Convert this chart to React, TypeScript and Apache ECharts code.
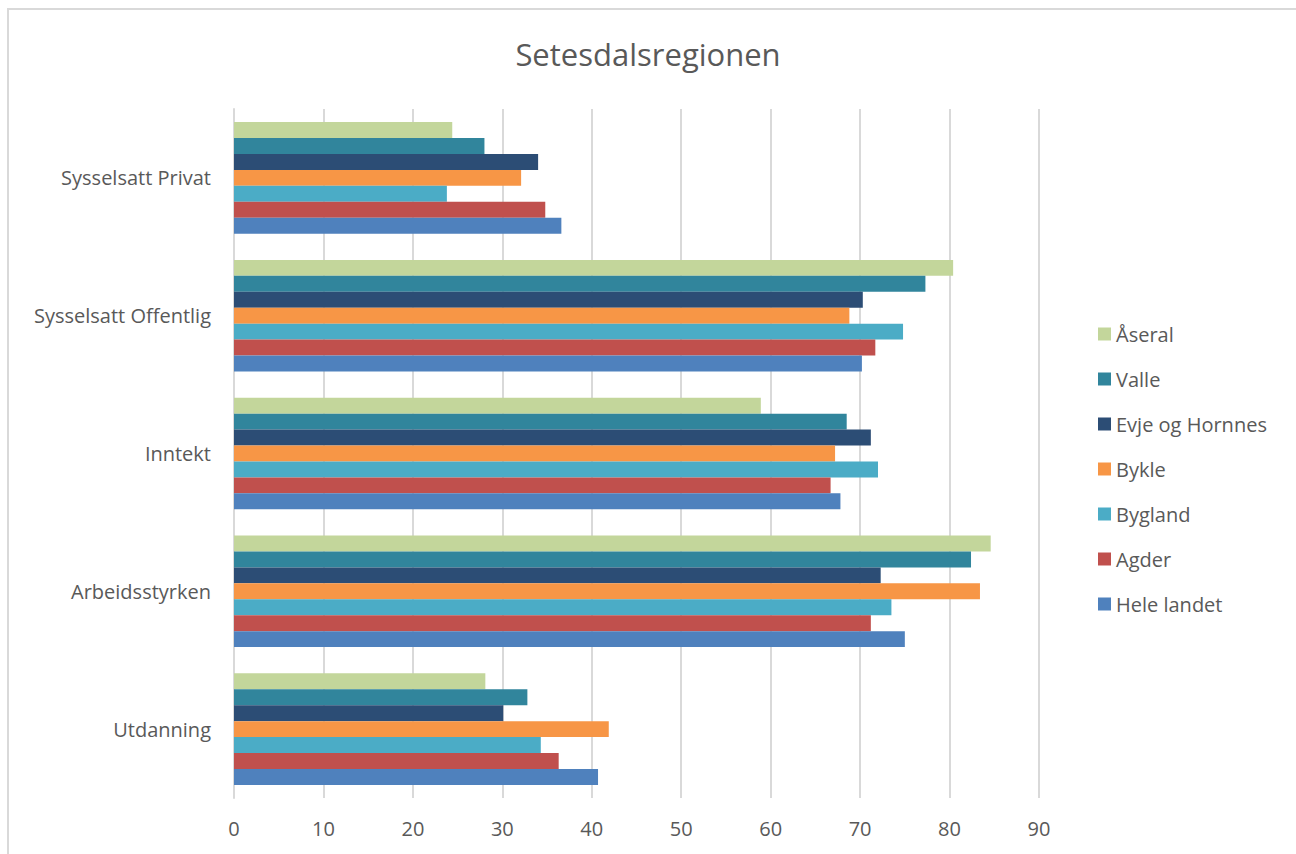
import React, { useEffect, useRef } from "react";
import * as echarts from "echarts";

const categories = ["Utdanning", "Arbeidsstyrken", "Inntekt", "Sysselsatt Offentlig", "Sysselsatt Privat"];
const seriesNames = ["Åseral", "Valle", "Evje og Hornnes", "Bykle", "Bygland", "Agder", "Hele landet"];
const aseral = [28.1, 84.6, 58.9, 80.4, 24.4];
const valle = [32.8, 82.4, 68.5, 77.3, 28.0];
const evje = [30.1, 72.3, 71.2, 70.3, 34.0];
const bykle = [41.9, 83.4, 67.2, 68.8, 32.1];
const bygland = [34.3, 73.5, 72.0, 74.8, 23.8];
const agder = [36.3, 71.2, 66.7, 71.7, 34.8];
const heleLandet = [40.7, 75.0, 67.8, 70.2, 36.6];
const xTicks = [0, 10, 20, 30, 40, 50, 60, 70, 80, 90];

const seriesValues = [aseral, valle, evje, bykle, bygland, agder, heleLandet];
const colors = ["#c3d69b", "#31859c", "#2c4d75", "#f79646", "#4bacc6", "#c0504d", "#4f81bd"];

const FONT = "'Open Sans', 'Noto Sans', sans-serif";

export default function App() {
  const ref = useRef<HTMLDivElement>(null);
  useEffect(() => {
    if (!ref.current) return;
    const chart = echarts.init(ref.current, undefined, { renderer: "svg" });
    chart.setOption({
      animation: false,
      backgroundColor: "#ffffff",
      title: {
        text: "Setesdalsregionen",
        left: "center",
        top: 33,
        textStyle: { fontFamily: FONT, fontSize: 31, fontWeight: "normal", color: "#595959" },
      },
      graphic: [
        {
          type: "rect",
          shape: { x: 8, y: 9, width: 1300, height: 860 },
          style: { fill: "none", stroke: "#d9d9d9", lineWidth: 2 },
          silent: true,
        },
      ],
      legend: {
        orient: "vertical",
        left: 1093,
        top: 319,
        itemWidth: 13,
        itemHeight: 13,
        itemGap: 25,
        icon: "rect",
        data: seriesNames,
        textStyle: { fontFamily: FONT, fontSize: 20, color: "#595959", padding: [0, 0, 0, 0] },
      },
      grid: { left: 234, right: 257, top: 109, bottom: 56, containLabel: false },
      xAxis: {
        type: "value",
        min: 0,
        max: 90,
        interval: 10,
        axisLine: { show: false },
        axisTick: { show: false },
        splitLine: { show: true, lineStyle: { color: "#d9d9d9", width: 2 } },
        axisLabel: {
          fontFamily: FONT,
          fontSize: 20,
          color: "#595959",
          margin: 20,
          formatter: (v: number) => (xTicks.includes(v) ? String(v) : ""),
        },
      },
      yAxis: {
        type: "category",
        data: categories,
        axisLine: { show: true, lineStyle: { color: "#d9d9d9", width: 2 } },
        axisTick: { show: false },
        axisLabel: { fontFamily: FONT, fontSize: 20, color: "#595959", margin: 23 },
      },
      series: seriesNames.map((name, i) => ({
        name,
        type: "bar",
        data: seriesValues[i],
        barGap: "0%",
        barCategoryGap: "19%",
        itemStyle: { color: colors[i] },
      })),
    });
    return () => chart.dispose();
  }, []);
  return <div ref={ref} style={{ position: "absolute", left: 0, top: 0, width: 1296, height: 854 }} />;
}
